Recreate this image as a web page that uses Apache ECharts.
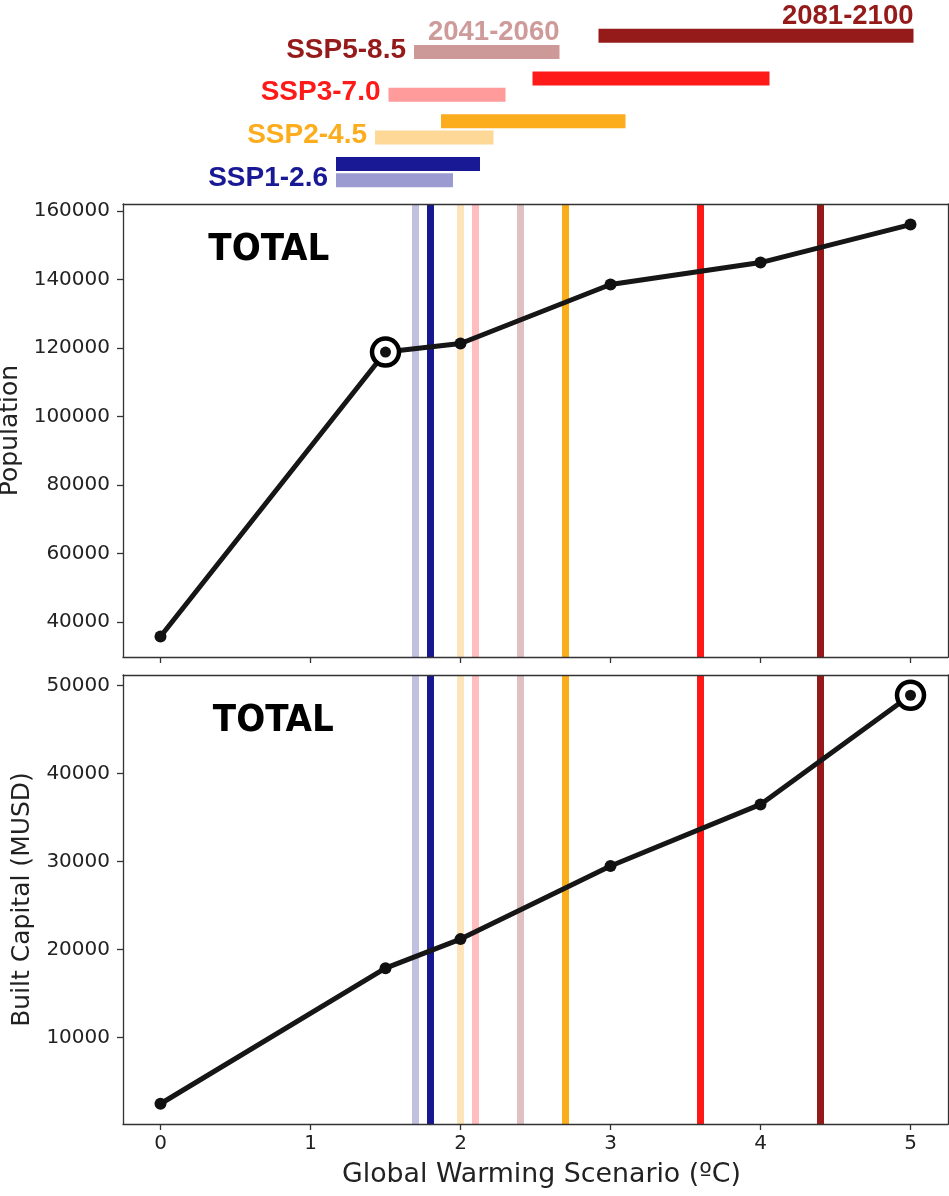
<!DOCTYPE html>
<html>
<head>
<meta charset="utf-8">
<script src="https://cdn.jsdelivr.net/npm/echarts@6/dist/echarts.min.js"></script>
<style>
html,body{margin:0;padding:0;background:#fff;}
#chart{width:949px;height:1196px;}
</style>
</head>
<body>
<div id="chart"></div>
<script>
// ---------------- data ----------------
const warming = [0, 1.5, 2, 3, 4, 5];
const population = [35800, 118800, 121300, 138500, 144900, 156000];
const builtCapital = [2500, 17900, 21200, 29500, 36500, 48900];
const popHighlightIndex = 1;
const capHighlightIndex = 5;

const scenarios = ['SSP1-2.6', 'SSP2-4.5', 'SSP3-7.0', 'SSP5-8.5'];
const lo2041 = [1.17, 1.43, 1.52, 1.69];
const hi2041 = [1.95, 2.22, 2.30, 2.66];
const lo2081 = [1.17, 1.87, 2.48, 2.92];
const hi2081 = [2.13, 3.10, 4.06, 5.02];
const central2041 = [1.7, 2.0, 2.1, 2.4];
const central2081 = [1.8, 2.7, 3.6, 4.4];
const periods = ['2041-2060', '2081-2100'];

const xTicks = [0, 1, 2, 3, 4, 5];
const popTicks = [40000, 60000, 80000, 100000, 120000, 140000, 160000];
const capTicks = [10000, 20000, 30000, 40000, 50000];

const xLabel = 'Global Warming Scenario (ºC)';
const popLabel = 'Population';
const capLabel = 'Built Capital (MUSD)';
const panelTitle = 'TOTAL';

// ---------------- styles ----------------
const darkCol = ['#191996', '#fbad1e', '#ff1a1a', '#951b1b'];
const lightCol = ['#9b9bd2', '#fdd897', '#ff9b9b', '#cc9898'];
const vLightCol = ['#c0c0e1', '#fde4bb', '#ffbdbd', '#dfc1c1'];
const vDarkCol = ['#17178f', '#fbae1c', '#ff1818', '#941a1a'];
const period41Col = '#cf9a9a';
const AX = '#333';
const TXT = '#222';
const XMIN = -0.25, XMAX = 5.25;
const POPMIN = 29800, POPMAX = 162000;
const CAPMIN = 200, CAPMAX = 51200;
const LEFT = 123, WIDTH = 825;
const BAR_H = 14, ROW_OFF = 0.19;
const labelFont = 'bold 28px "Liberation Sans", Arial, sans-serif';
const periodFont = 'bold 27.5px "Liberation Sans", Arial, sans-serif';

const chart = echarts.init(document.getElementById('chart'), null, {renderer: 'canvas'});

function mainX(grid, showLabels, name) {
  return {
    type: 'value', gridIndex: grid, min: XMIN, max: XMAX, position: 'bottom', z: 10,
    axisLine: {show: true, onZero: false, lineStyle: {color: AX, width: 1.3}},
    axisTick: {show: true, inside: false, length: 6, customValues: xTicks, lineStyle: {color: AX, width: 1.3}},
    axisLabel: {show: showLabels, customValues: xTicks, margin: 10, fontSize: 20, fontFamily: 'DejaVu Sans', color: TXT, formatter: v => String(v)},
    splitLine: {show: false},
    name: name || '', nameLocation: 'middle', nameGap: 38,
    nameTextStyle: {fontSize: 26.8, fontFamily: 'DejaVu Sans', color: TXT, padding: [0, 0, 0, 12]}
  };
}
function frameX(grid) {
  return {type: 'value', gridIndex: grid, min: XMIN, max: XMAX, position: 'top', z: 10,
    axisLine: {show: true, onZero: false, lineStyle: {color: AX, width: 1.3}},
    axisTick: {show: false}, axisLabel: {show: false}, splitLine: {show: false}};
}
function mainY(grid, min, max, ticks, name, gap) {
  return {
    type: 'value', gridIndex: grid, min: min, max: max, position: 'left', z: 10,
    axisLine: {show: true, onZero: false, lineStyle: {color: AX, width: 1.3}},
    axisTick: {show: true, inside: false, length: 6, customValues: ticks, lineStyle: {color: AX, width: 1.3}},
    axisLabel: {show: true, customValues: ticks, margin: 13, fontSize: 20, fontFamily: 'DejaVu Sans', color: TXT, formatter: v => String(v)},
    splitLine: {show: false},
    name: name, nameLocation: 'middle', nameRotate: 90, nameGap: gap,
    nameTextStyle: {fontSize: 25, fontFamily: 'DejaVu Sans', color: TXT}
  };
}
function frameY(grid, min, max) {
  return {type: 'value', gridIndex: grid, min: min, max: max, position: 'right', z: 10,
    axisLine: {show: true, onZero: false, lineStyle: {color: AX, width: 1.3}},
    axisTick: {show: false}, axisLabel: {show: false}, splitLine: {show: false}};
}

// vertical central-estimate lines
const vLines = central2041.map((x, i) => ({value: [x, 0], c: vLightCol[i]}))
  .concat(central2081.map((x, i) => ({value: [x, 0], c: vDarkCol[i]})));
const vColors = vLines.map(d => d.c);
function vLineSeries(xi, yi, ymin) {
  return {
    type: 'custom', xAxisIndex: xi, yAxisIndex: yi, z: 1, silent: true,
    data: vLines.map(d => [d.value[0], ymin]),
    renderItem: function (params, api) {
      const cs = params.coordSys;
      const px = api.coord([api.value(0), ymin])[0];
      return {type: 'line', shape: {x1: px, y1: cs.y, x2: px, y2: cs.y + cs.height},
        style: {stroke: vColors[params.dataIndex], lineWidth: 7}};
    }
  };
}

function lineSeries(xi, yi, vals, hi) {
  const pts = warming.map((x, i) => [x, vals[i]]);
  return [
    {type: 'line', xAxisIndex: xi, yAxisIndex: yi, z: 3, data: pts, symbol: 'circle', symbolSize: 12,
      showSymbol: true, itemStyle: {color: '#111'}, lineStyle: {color: '#161616', width: 5}, silent: true, animation: false},
    {type: 'scatter', xAxisIndex: xi, yAxisIndex: yi, z: 4, data: [pts[hi]], symbol: 'circle', symbolSize: 27,
      itemStyle: {color: '#fff', borderColor: '#000', borderWidth: 4.5, opacity: 1}, silent: true, animation: false},
    {type: 'scatter', xAxisIndex: xi, yAxisIndex: yi, z: 5, data: [pts[hi]], symbol: 'circle', symbolSize: 11,
      itemStyle: {color: '#111', opacity: 1}, silent: true, animation: false}
  ];
}

const barData = scenarios.map((s, i) => [i, lo2041[i], hi2041[i], lo2081[i], hi2081[i]]);
const barSeries = {
  type: 'custom', xAxisIndex: 0, yAxisIndex: 0, silent: true, data: barData,
  renderItem: function (params, api) {
    const i = api.value(0);
    const l0 = api.coord([api.value(1), i - ROW_OFF]);
    const l1 = api.coord([api.value(2), i - ROW_OFF]);
    const d0 = api.coord([api.value(3), i + ROW_OFF]);
    const d1 = api.coord([api.value(4), i + ROW_OFF]);
    const children = [
      {type: 'rect', shape: {x: l0[0], y: l0[1] - BAR_H / 2, width: l1[0] - l0[0], height: BAR_H}, style: {fill: lightCol[i]}},
      {type: 'rect', shape: {x: d0[0], y: d0[1] - BAR_H / 2, width: d1[0] - d0[0], height: BAR_H}, style: {fill: darkCol[i]}},
      {type: 'text', style: {text: scenarios[i], x: Math.min(l0[0], d0[0]) - 8, y: l0[1] - 2,
        align: 'right', verticalAlign: 'middle', font: labelFont, fill: darkCol[i]}}
    ];
    if (i === scenarios.length - 1) {
      children.push({type: 'text', style: {text: periods[0], x: l1[0], y: l0[1] - BAR_H / 2 - 12.8,
        align: 'right', verticalAlign: 'middle', font: periodFont, fill: period41Col}});
      children.push({type: 'text', style: {text: periods[1], x: d1[0], y: d0[1] - BAR_H / 2 - 12.8,
        align: 'right', verticalAlign: 'middle', font: periodFont, fill: darkCol[i]}});
    }
    return {type: 'group', children: children};
  }
};

const option = {
  animation: false,
  backgroundColor: '#fff',
  grid: [
    {left: LEFT, width: WIDTH, top: 22.5, height: 171, containLabel: false, outerBoundsMode: 'none'},
    {left: LEFT, width: WIDTH, top: 204, height: 453, containLabel: false, outerBoundsMode: 'none'},
    {left: LEFT, width: WIDTH, top: 675, height: 449, containLabel: false, outerBoundsMode: 'none'}
  ],
  xAxis: [
    {type: 'value', gridIndex: 0, min: XMIN, max: XMAX, show: false},
    mainX(1, false),
    frameX(1),
    mainX(2, true, xLabel),
    frameX(2)
  ],
  yAxis: [
    {type: 'value', gridIndex: 0, min: -0.5, max: 3.5, show: false},
    mainY(1, POPMIN, POPMAX, popTicks, popLabel, 90),
    frameY(1, POPMIN, POPMAX),
    mainY(2, CAPMIN, CAPMAX, capTicks, capLabel, 79),
    frameY(2, CAPMIN, CAPMAX)
  ],
  graphic: [
    {type: 'text', x: 268.8, y: 249.7, z: 20, style: {text: panelTitle, align: 'center', verticalAlign: 'middle',
      font: 'bold 38px "DejaVu Sans Condensed", "Liberation Sans Narrow", "DejaVu Sans", sans-serif', fill: '#000'}},
    {type: 'text', x: 273.3, y: 721, z: 20, style: {text: panelTitle, align: 'center', verticalAlign: 'middle',
      font: 'bold 38px "DejaVu Sans Condensed", "Liberation Sans Narrow", "DejaVu Sans", sans-serif', fill: '#000'}}
  ],
  series: [
    barSeries,
    vLineSeries(1, 1, POPMIN),
    vLineSeries(3, 3, CAPMIN)
  ].concat(lineSeries(1, 1, population, popHighlightIndex))
   .concat(lineSeries(3, 3, builtCapital, capHighlightIndex))
};
chart.setOption(option);
</script>
</body>
</html>
